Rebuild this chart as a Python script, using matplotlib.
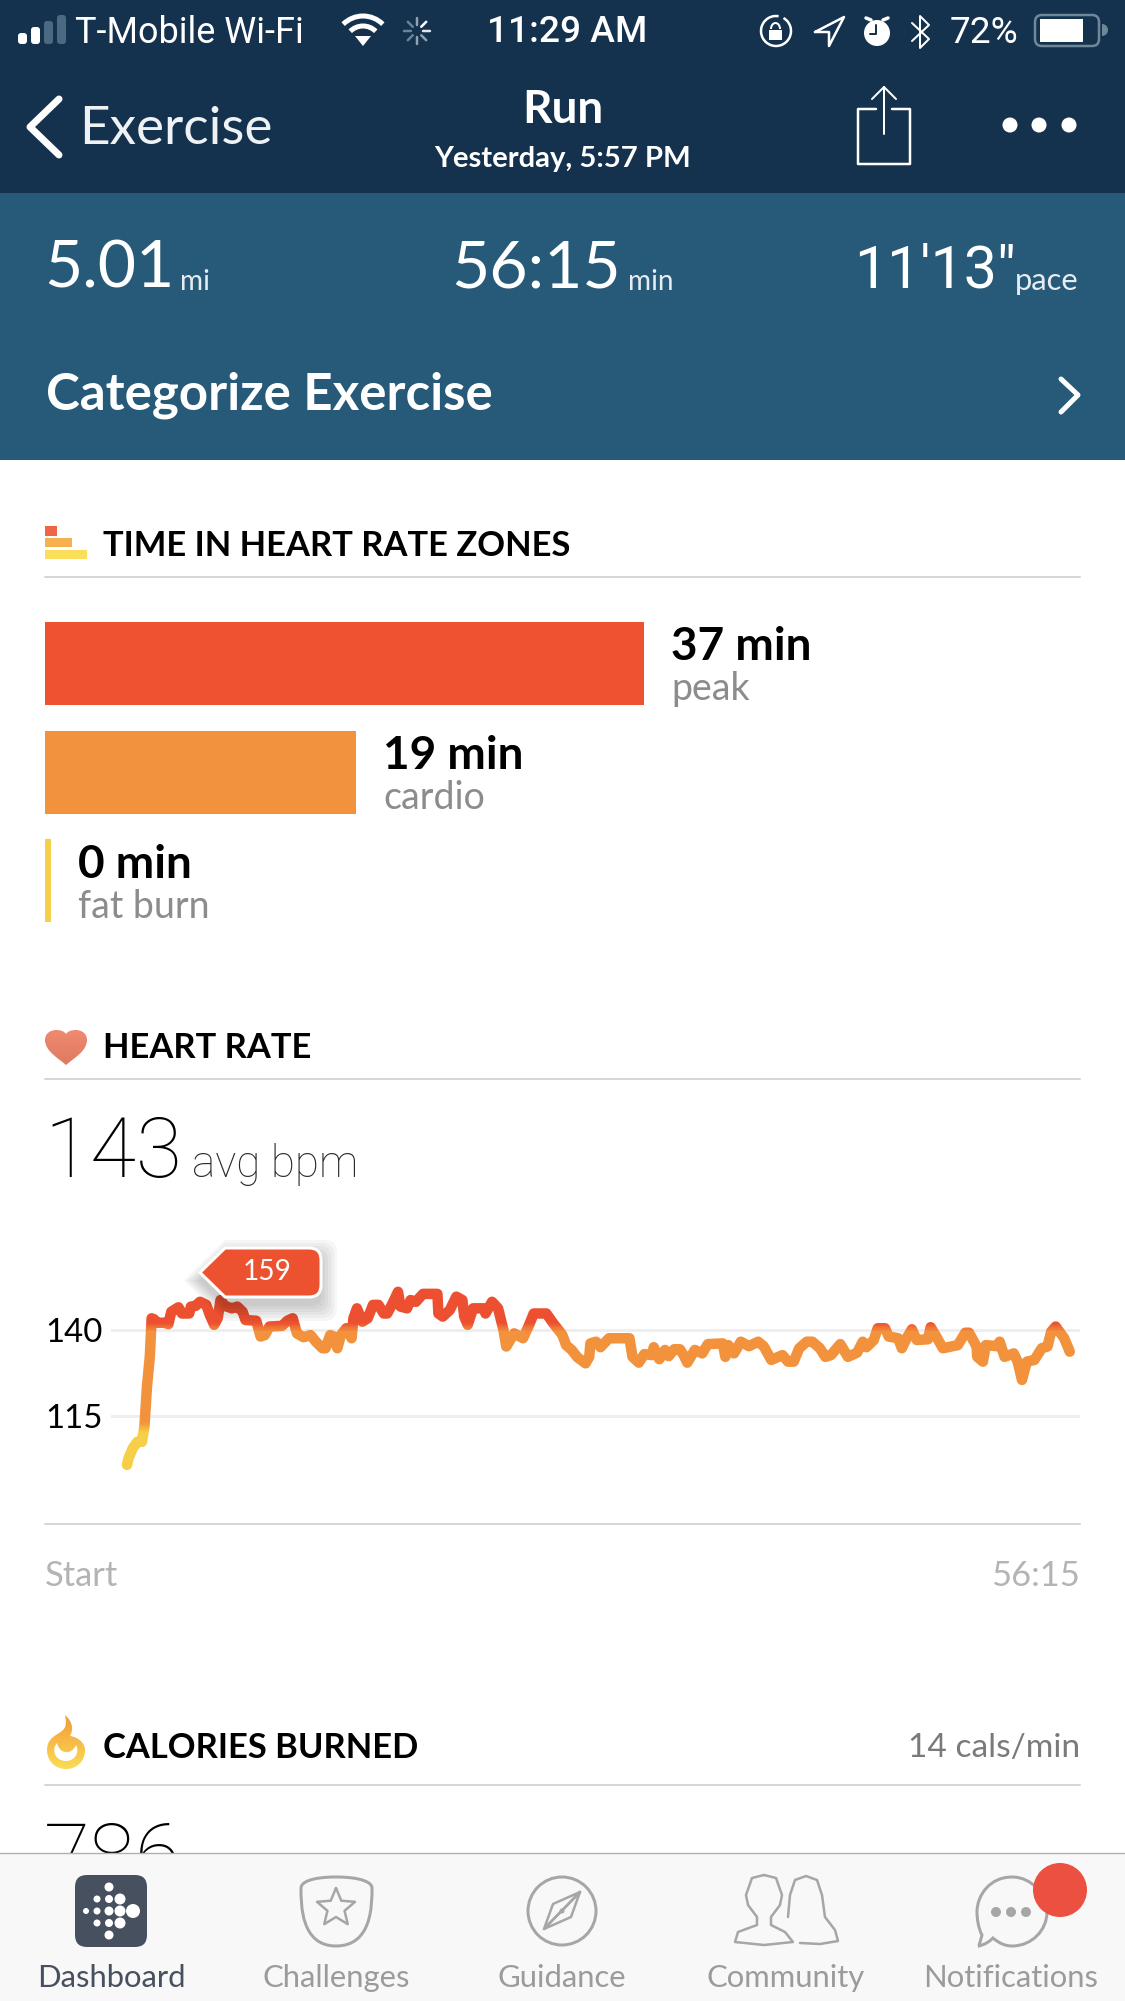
import numpy as np
import matplotlib
matplotlib.use('Agg')
import matplotlib.pyplot as plt
from matplotlib.colors import LinearSegmentedColormap
from matplotlib.patches import Circle, FancyBboxPatch, PathPatch, Polygon, Rectangle, Wedge, Arc
from matplotlib.path import Path
from matplotlib.transforms import Bbox, TransformedBbox

W, H = 1125, 2001

# heart rate zones
zone_names = ['peak', 'cardio', 'fat burn']
zone_minutes = [37.0, 19.2, 0]
zone_colors = ['#ee5230', '#f2923c', '#f6cf48']

# heart rate trace
hr_minutes = [0.0, 0.09, 0.34, 0.62, 0.89, 1.04, 1.19, 1.36, 1.47, 1.62, 1.79, 2.26, 2.47, 2.64, 3.07, 3.28, 3.71, 3.81,
              4.09, 4.35, 4.73, 4.94, 5.20, 5.41, 5.58, 5.84, 6.26, 6.58, 6.90, 7.07, 7.71, 7.97, 8.22, 8.50, 9.25, 9.57,
              9.89, 10.14, 10.53, 10.95, 11.27, 11.66, 11.85, 12.12, 12.34, 12.55, 12.76, 13.08, 13.40, 13.51, 13.72,
              14.04, 14.36, 14.68, 15.0, 15.32, 15.53, 15.85, 16.17, 16.32, 16.71, 16.92, 17.24, 17.66, 18.52, 18.58,
              18.84, 19.26, 19.65, 20.01, 20.12, 20.33, 20.65, 21.29, 21.39, 21.78, 22.14, 22.46, 22.63, 23.1, 23.63,
              23.95, 24.27, 25.02, 25.44, 25.83,
              25.98, 26.2, 26.53, 26.87, 27.36, 27.58, 27.65, 27.98, 28.25, 28.76, 29.98, 30.16, 30.54, 30.87, 31.32,
              31.43, 31.76, 32.1, 32.32, 32.65, 32.99, 33.21, 33.43, 33.88, 34.32, 34.66, 35.55, 35.7, 35.88, 36.22,
              36.62, 37.11, 37.66, 38.0, 38.44, 39.11, 39.44, 39.78, 40.11, 40.56, 40.89, 41.34, 41.67, 42.0, 42.56,
              43.01, 43.56, 43.9, 44.12, 44.56, 44.79, 45.23, 45.45, 46.01, 46.23, 46.57, 46.83, 47.12, 47.79, 47.95,
              48.24, 48.68, 49.57, 50.02, 50.24, 50.69, 50.73, 51.07, 51.24, 51.91, 52.07, 52.36, 52.91, 53.14, 53.4,
              53.69, 54.14, 54.58, 54.92, 55.14, 55.41, 55.92, 56.25]
hr_bpm = [100.8, 102.7, 105.6, 107.5, 107.5, 111.9, 123.5, 132.2, 143.4, 143.1, 142.1, 142.1, 141.7, 145.3, 146.6, 144.8,
          144.8, 146.8, 147, 148.2, 147.3, 144.4, 141.5, 143.4, 148.7, 147, 146.3, 146.8, 145.3, 142.9, 142.7, 138.1,
          138.5, 141, 141.2, 142.7, 143.4, 139, 137.9, 138.5, 136.6, 134.7, 134.7, 138.5, 138.1, 134.7, 138.5, 140.5,
          137.6, 143.4, 146.3, 142.4, 143.4, 147.3, 147.3, 144.8, 144.8, 147.8, 151.1, 146.8, 146.3, 148.7, 148.2,
          150.5, 150.5, 144.8, 143.9, 145.8, 149.7, 148.7, 143.9, 141.5, 146.3, 146.3, 144.8, 148.2, 146.3, 140, 135.2,
          139, 137.6, 141, 144.8, 144.8, 141.9, 139.5,
          138.5, 135.6, 134.2, 132.1, 130.3, 132.2, 136.1, 136.6, 135, 137.6, 137.6, 132.2, 130.5, 133, 132.7, 135,
          131.5, 134.2, 132.4, 134.4, 134.4, 132.7, 130.5, 134.2, 133.2, 135.9, 136.1, 132.2, 135.6, 133.2, 136.6,
          135.3, 136.6, 135.2, 131.3, 132.7, 130.8, 130.8, 134.7, 136.6, 136.6, 134.7, 132.2, 132.7, 135.9, 132.2,
          133.4, 136.6, 135, 137.1, 140.5, 140.5, 138.1, 137.6, 134.7, 138.1, 140.2, 137.1, 137.3, 140.8, 138.5, 134.7,
          135.6, 139.2, 139.2, 135.2, 132.2, 130.8, 135.6, 135.3, 136.6, 132.2, 133.2, 130.8, 125.5, 130.8, 131.3,
          134.7, 135.2, 139.5, 141, 137.6, 133.7]
hr_ticks = [115, 140]
hr_peak = 159

tab_names = ['Dashboard', 'Challenges', 'Guidance', 'Community', 'Notifications']

FONT = ['Lato', 'DejaVu Sans']
SYS = ['Roboto', 'DejaVu Sans']
THIN = ['Roboto', 'DejaVu Sans']
plt.rcParams['font.family'] = FONT

NAVY = '#14324d'
TEAL = '#265a78'
RULE = '#cccccc'
TABGREY = '#a6a6a6'


def fs(px):
    return px * 0.72  # dpi 100, size in pixels -> points


def px_axes(x0, y0, x1, y1, z):
    return fig.add_axes([x0 / W, 1 - y1 / H, (x1 - x0) / W, (y1 - y0) / H], zorder=z)


fig = plt.figure(figsize=(W / 100, H / 100), dpi=100, facecolor='white')

ui = px_axes(0, 0, W, H, 0)
ui.axis('off')

top = px_axes(0, 0, W, H, 5)
top.set_xlim(0, W)
top.set_ylim(H, 0)
top.axis('off')
top.patch.set_alpha(0)


def txt(x, y, s, size, color='black', ha='left', va='center', weight='normal', family=FONT, ax=None, **kw):
    return (ax or ui).text(x, y, s, fontsize=fs(size), color=color, ha=ha, va=va, fontweight=weight, family=family, **kw)


def poly(pts, ax=None, color='white', lw=3, closed=False, z=3):
    xs, ys = zip(*pts)
    if closed:
        xs, ys = xs + xs[:1], ys + ys[:1]
    (ax or ui).plot(xs, ys, color=color, lw=fs(lw), solid_capstyle='round', solid_joinstyle='round', zorder=z)


def curve(verts, codes, ax=None, face='none', edge='none', lw=0, z=3):
    p = PathPatch(Path(verts, codes), facecolor=face, edgecolor=edge, lw=fs(lw), zorder=z)
    (ax or ui).add_patch(p)
    return p


def grad_fill(verts, y0, y1, c_top, c_bot):
    # vertical gradient clipped to a bezier outline
    p = curve(verts, [Path.MOVETO] + [Path.CURVE4] * (len(verts) - 1))
    xs = [v[0] for v in verts]
    g = LinearSegmentedColormap.from_list('g', [c_top, c_bot])
    ui.imshow(np.linspace(0, 1, 64)[:, None], cmap=g, extent=(min(xs) - 2, max(xs) + 2, y1, y0), aspect='auto', clip_path=p, zorder=3)


# page backgrounds
ui.add_patch(Rectangle((0, 0), W, 193, color=NAVY, lw=0))
ui.add_patch(Rectangle((0, 193), W, 267, color=TEAL, lw=0))

# status bar
for bx, ytop, c in zip([18, 31, 44, 57], [33, 27, 21, 15], ['white', 'white', '#4b6a82', '#4b6a82']):
    ui.add_patch(FancyBboxPatch((bx + 1, ytop + 1), 7, 42 - ytop, boxstyle='round,pad=1,rounding_size=3', fc=c, ec='none'))
txt(75, 33, 'T-Mobile Wi-Fi', 36, 'white', family=SYS)
for r, lw in zip([28, 18], [5, 5]):
    ui.add_patch(Arc((363, 44), 2 * r, 2 * r, theta1=225, theta2=315, color='white', lw=fs(lw)))
ui.add_patch(Polygon([(355, 36), (371, 36), (363, 46)], color='white', lw=0))
for a, c in zip(np.arange(0, 360, 45), ['#dfe5ea', '#8fa2b2', '#8fa2b2', '#6c8497', '#6c8497', '#6c8497', '#8fa2b2', 'white']):
    ca, sa = np.cos(np.radians(a)), np.sin(np.radians(a))
    poly([(417 + 6 * ca, 31 + 6 * sa), (417 + 13 * ca, 31 + 13 * sa)], color=c, lw=2.5)
txt(567, 33, '11:29 AM', 37, 'white', ha='center', family=SYS, weight='medium')
ui.add_patch(Arc((776, 31), 30, 30, theta1=-60, theta2=280, color='white', lw=fs(2.5)))
ui.add_patch(Rectangle((769, 30), 13, 10, color='white', lw=0))
ui.add_patch(Arc((775.5, 29), 9, 12, theta1=180, theta2=360, color='white', lw=fs(2)))
poly([(815, 32), (844, 17), (829, 46), (829, 32)], color='white', lw=2.5, closed=True)
ui.add_patch(Circle((877, 33), 13, color='white', lw=0))
poly([(866, 18), (871, 20)], color='white', lw=3.5)
poly([(888, 18), (883, 20)], color='white', lw=3.5)
poly([(876, 25), (876, 34), (870, 34)], color=NAVY, lw=2)
poly([(912, 23), (929, 39), (920, 48), (920, 16), (929, 25), (912, 41)], color='white', lw=2)
txt(950, 33, '72%', 37, 'white', family=SYS)
ui.add_patch(FancyBboxPatch((1035, 15), 64, 31, boxstyle='round,pad=0,rounding_size=7', fc='none', ec='#6f8799', lw=fs(2.5)))
ui.add_patch(Rectangle((1040, 19), 43, 23, color='white', lw=0))
ui.add_patch(Wedge((1102, 30), 6, -90, 90, color='#6f8799', lw=0))

# nav bar
poly([(59, 99), (30, 127), (59, 155)], color='white', lw=7)
txt(79, 129, 'Exercise', 53, '#eef2f5')
txt(563, 110, 'Run', 46, 'white', ha='center', weight='bold')
txt(563, 159, 'Yesterday, 5:57 PM', 29.3, 'white', ha='center', weight='bold')
poly([(876, 109), (858, 109), (858, 164), (910, 164), (910, 109), (892, 109)], color='white', lw=2.5)
poly([(884, 134), (884, 87)], color='white', lw=2)
poly([(872, 99), (884, 87), (896, 99)], color='white', lw=2)
for dx in [1010, 1039, 1069]:
    ui.add_patch(Circle((dx, 125), 7.5, color='white', lw=0))

# summary strip
for x, s, sz, fam, ux, u, usz in [(44, '5.01', 66, FONT, 180, 'mi', 28), (451, '56:15', 66, FONT, 628, 'min', 28),
                                  (854, '11\'13"', 59, SYS, 1015, 'pace', 31)]:
    txt(x, 288, s, sz, 'white', va='baseline', family=fam)
    txt(ux, 290, u, usz, '#e6edf2', va='baseline')
txt(46, 395, 'Categorize Exercise', 51, 'white', weight='bold')
poly([(1061, 379), (1078, 395), (1061, 412)], color='white', lw=5)

# section headers
txt(103, 546, 'TIME IN HEART RATE ZONES', 34.5, 'black', weight='bold')
ui.plot([45, W - 45], [577, 577], color=RULE, lw=1.1)
ui.add_patch(Rectangle((45, 526), 12, 10, color='#ef6547', lw=0))
ui.add_patch(Rectangle((45, 538), 27, 9, color='#f5b050', lw=0))
ui.add_patch(Rectangle((45, 550), 42, 9, color='#fbdf5a', lw=0))

txt(103, 1048, 'HEART RATE', 34.5, 'black', weight='bold')
ui.plot([45, W - 45], [1079, 1079], color=RULE, lw=1.1)
grad_fill([(66, 1065), (58, 1058), (45, 1051), (45, 1040), (45, 1033), (51, 1030), (56, 1030), (60, 1030), (64, 1031), (66, 1034),
           (68, 1031), (72, 1030), (76, 1030), (81, 1030), (87, 1033), (87, 1040), (87, 1051), (74, 1058), (66, 1065)],
          1030, 1065, '#f08a70', '#dd7a60')
txt(44, 1177, '143', 84, 'black', va='baseline', weight='light', family=THIN)
txt(192, 1177, 'avg bpm', 44, '#2a2a2a', va='baseline', weight='light', family=THIN)

txt(103, 1748, 'CALORIES BURNED', 34.5, 'black', weight='bold')
txt(W - 45, 1748, '14 cals/min', 33.5, '#7a7a7a', ha='right')
ui.plot([45, W - 45], [1785, 1785], color=RULE, lw=1.1)
grad_fill([(65, 1715), (74, 1723), (73, 1731), (70, 1736), (78, 1737), (85, 1743), (85, 1750), (85, 1762), (76, 1769), (66, 1769),
           (55, 1769), (47, 1761), (47, 1750), (47, 1737), (58, 1735), (63, 1730), (67, 1726), (66, 1720), (65, 1715)],
          1715, 1769, '#f29a3a', '#fbdc55')
curve([(57, 1743), (51, 1750), (55, 1761), (66, 1761), (75, 1761), (80, 1752), (76, 1745), (74, 1750), (70, 1753), (65, 1752),
       (60, 1751), (58, 1747), (57, 1743)], [Path.MOVETO] + [Path.CURVE4] * 12, face='white', z=4)
txt(44, 1883, '786', 84, 'black', va='baseline', weight='light', family=THIN)

txt(45, 1576, 'Start', 34.5, '#b4b4b4')
txt(W - 45, 1576, '56:15', 34.5, '#b4b4b4', ha='right')
ui.plot([45, W - 45], [1524, 1524], color=RULE, lw=1.1)
ui.set_xlim(0, W)
ui.set_ylim(H, 0)

# zone bars
zax = px_axes(45, 600, W - 45, 945, 1)
zax.patch.set_alpha(0)
zax.axis('off')
y_pos = np.arange(len(zone_minutes))
widths = np.maximum(zone_minutes, 0.35)  # zero still gets a sliver
zax.barh(y_pos, widths, height=0.765, color=zone_colors)
zax.set_xlim(0, 1035 / 16.2)
zax.set_ylim(2.594, -0.585)
for i, (m, w_, name) in enumerate(zip(zone_minutes, widths, zone_names)):
    zax.annotate(f'{m:.0f} min', (w_, i), xytext=(fs(27), fs(16)), textcoords='offset points', fontsize=fs(46),
                 fontweight='bold', va='center', color='black')
    zax.annotate(name, (w_, i), xytext=(fs(27), fs(-26)), textcoords='offset points', fontsize=fs(37.5),
                 va='center', color='#8c8c8c')

# heart rate chart
hr = px_axes(111, 1240, W - 45, 1524, 2)
hr.patch.set_alpha(0)
hr.set_xlim((111 - 127) / 16.76, (1080 - 127) / 16.76)
hr.set_ylim(140 - (1524 - 1330) / 3.44, 140 + (1330 - 1240) / 3.44)
for s in hr.spines.values():
    s.set_visible(False)
hr.set_xticks([])
hr.set_yticks(hr_ticks)
hr.tick_params(axis='y', length=0, pad=fs(66), labelsize=fs(33), labelcolor='black')
for lab in hr.get_yticklabels():
    lab.set_ha('left')
hr.grid(axis='y', color='#eeeeee', lw=fs(3))
hr.set_axisbelow(True)

cmap = LinearSegmentedColormap.from_list('hr', [(0, '#f6cf48'), (15 / 60, '#f6cf48'), (18 / 60, '#f2923c'),
                                               (44.5 / 60, '#f2923c'), (47 / 60, '#ec5030'), (1, '#ec5030')])
step = 1 / 3.44  # one pixel row
for lo in np.arange(95, 155, step):
    ln, = hr.plot(hr_minutes, hr_bpm, color=cmap((lo - 95) / 60), lw=fs(10.5), solid_joinstyle='round', solid_capstyle='round', zorder=3)
    ln.set_clip_box(TransformedBbox(Bbox([[-1, lo], [57, lo + step]]), hr.transData))


# peak tag
def tag_path(dx=0, dy=0, g=0):
    x0, x1, y0, y1, xc, r = 200 - g, 321 + g, 1248 - g, 1297 + g, 225, 12
    v = [(xc, y0), (x1 - r, y0), (x1, y0), (x1, y0 + r), (x1, y1 - r), (x1, y1), (x1 - r, y1), (xc, y1), (x0, (y0 + y1) / 2), (xc, y0)]
    c = [Path.MOVETO, Path.LINETO, Path.CURVE3, Path.CURVE3, Path.LINETO, Path.CURVE3, Path.CURVE3, Path.LINETO, Path.LINETO, Path.CLOSEPOLY]
    return Path([(a + dx, b + dy) for a, b in v], c)


for g in [16, 13, 10, 7, 4, 1]:
    top.add_patch(PathPatch(tag_path(0, 8, g), fc='black', ec='none', alpha=0.035, zorder=1))
top.add_patch(PathPatch(tag_path(), fc='#ec5230', ec='white', lw=fs(3), zorder=2))
txt(267, 1272, str(hr_peak), 28, 'white', ha='center', ax=top, zorder=3)

# tab bar
top.add_patch(Rectangle((0, 1853), W, H - 1853, fc='#f8f8f8', ec='none', zorder=1))
top.plot([0, W], [1853, 1853], color='#b0b0b0', lw=1, zorder=2)
tab_x = [111, 336, 562, 786, 1011]
for x, name, c in zip(tab_x, tab_names, ['#47505e'] + ['#9b9b9b'] * 4):
    txt(x, 1978, name, 31, c, ha='center', ax=top, zorder=3)

top.add_patch(FancyBboxPatch((87, 1887), 48, 48, boxstyle='round,pad=12,rounding_size=12', fc='#47505e', ec='none', zorder=3))
for cx, cy, r in [(109, 1887, 4.5), (97, 1899, 3.5), (109, 1899, 4), (120, 1899, 5.5), (86, 1911, 3), (97, 1911, 3.5), (109, 1911, 4.5),
                  (120, 1911, 5.5), (133, 1911, 7), (97, 1923, 3.5), (109, 1923, 4), (120, 1923, 5.5), (109, 1935, 4.5)]:
    top.add_patch(Circle((cx, cy), r, color='white', lw=0, zorder=4))

curve([(301, 1888), (301, 1882), (312, 1877), (336, 1877), (360, 1877), (372, 1882), (372, 1888), (372, 1905), (372, 1946), (336, 1946),
       (301, 1946), (301, 1905), (301, 1888)], [Path.MOVETO] + [Path.CURVE4] * 12, ax=top, edge=TABGREY, lw=3, z=3)
star = [(336 + (20 if i % 2 == 0 else 9) * np.sin(i * np.pi / 5), 1908 - (20 if i % 2 == 0 else 9) * np.cos(i * np.pi / 5)) for i in range(10)]
poly(star, ax=top, color=TABGREY, lw=2.5, closed=True)

top.add_patch(Circle((562, 1911), 34, fc='none', ec=TABGREY, lw=fs(3), zorder=3))
poly([(580, 1892), (544, 1929), (553, 1904), (580, 1892)], ax=top, color=TABGREY, lw=2.5)
poly([(580, 1892), (544, 1929), (571, 1917), (580, 1892)], ax=top, color=TABGREY, lw=2.5)
top.add_patch(Circle((562, 1911), 2.5, color=TABGREY, lw=0, zorder=3))

poly([(764, 1875), (776, 1878), (782, 1895), (780, 1905), (771, 1917), (771, 1925), (785, 1932), (793, 1942), (764, 1945), (735, 1942),
      (738, 1932), (757, 1925), (757, 1917), (748, 1905), (746, 1895), (752, 1878)], ax=top, color=TABGREY, lw=2.5, closed=True)
poly([(788, 1917), (790, 1895), (795, 1880), (806, 1876), (817, 1880), (822, 1895), (825, 1917), (835, 1930), (838, 1941), (820, 1944), (800, 1943)],
     ax=top, color=TABGREY, lw=2.5)

curve([(1012, 1877), (990, 1877), (977, 1895), (977, 1912), (977, 1920), (979, 1930), (982, 1935), (979, 1946), (979, 1946), (978, 1946),
       (985, 1945), (990, 1941), (993, 1938), (1000, 1944), (1006, 1946), (1012, 1946), (1032, 1946), (1047, 1930), (1047, 1912), (1047, 1895), (1032, 1877), (1012, 1877)],
      [Path.MOVETO] + [Path.CURVE4] * 21, ax=top, edge=TABGREY, lw=3, z=3)
for dx in [996, 1011, 1026]:
    top.add_patch(Circle((dx, 1912), 5, color=TABGREY, lw=0, zorder=3))
top.add_patch(Circle((1060, 1890), 27, color='#ec5040', lw=0, zorder=4))

fig.savefig('out.png', dpi=100)
